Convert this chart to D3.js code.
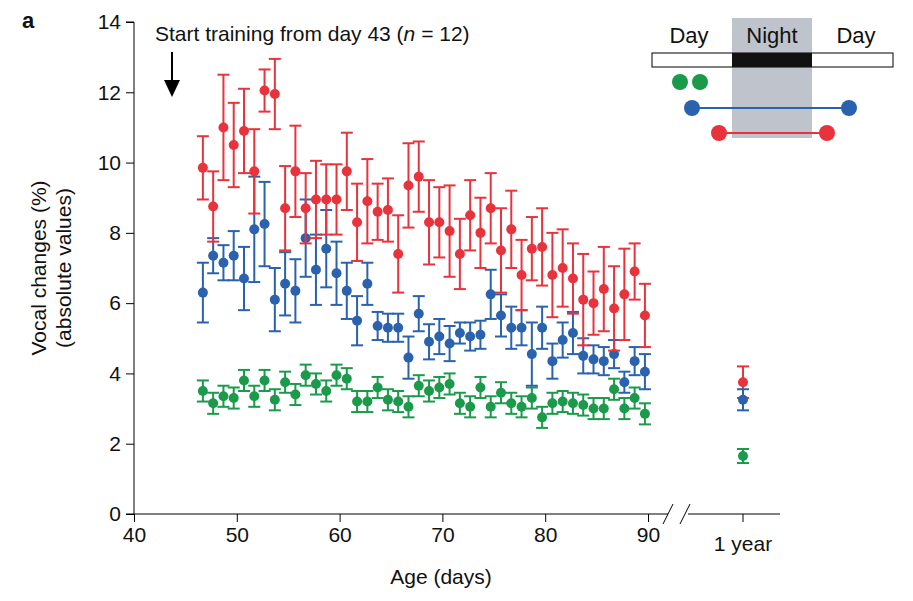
<!DOCTYPE html>
<html>
<head>
<meta charset="UTF-8">
<script src="https://d3js.org/d3.v7.min.js"></script>
<style>
  body { margin: 0; background: #fff; }
  text { font-family: "Liberation Sans", Arial, sans-serif; fill: #111; }
</style>
</head>
<body>
<svg width="913" height="601"></svg>
<script>
// data (per-day means, age from day 46.7 on)
const startDay = 46.7;
const redVals = [9.85,8.75,11.0,10.5,10.9,9.75,12.05,11.95,8.7,9.75,8.7,8.95,8.95,8.95,9.75,8.3,8.9,8.6,8.65,7.4,9.35,9.6,8.3,8.3,8.05,7.4,8.5,8.0,8.7,7.5,8.1,6.8,7.55,7.6,6.8,7.0,6.7,6.1,6.0,6.4,5.85,6.25,6.9,5.65];
const redErr  = [0.9,1.0,1.5,1.2,1.2,1.2,0.6,1.0,1.2,1.3,1.0,1.1,1.0,1.0,1.1,1.1,1.2,0.8,0.9,1.1,1.2,1.0,1.2,1.0,1.3,1.0,1.0,1.0,1.0,1.2,1.1,1.0,0.9,1.1,1.2,1.1,1.0,1.3,0.9,1.2,1.2,1.3,0.8,0.9];
const blueVals = [6.3,7.35,7.15,7.35,6.7,8.1,8.25,6.1,6.55,6.35,7.85,6.95,7.55,6.85,6.35,5.5,6.55,5.35,5.3,5.3,4.45,5.7,4.9,5.05,4.85,5.15,5.05,5.1,6.25,5.65,5.3,5.3,4.55,5.3,4.35,4.95,5.15,4.5,4.4,4.35,4.55,3.75,4.35,4.05];
const blueErr  = [0.85,0.5,0.5,0.7,0.9,1.5,1.2,0.9,0.9,0.9,1.1,1.0,1.1,0.9,0.8,0.7,0.6,0.4,0.4,0.4,0.6,0.5,0.5,0.5,0.5,0.3,0.4,0.4,0.7,0.6,0.6,0.5,0.9,0.6,0.5,0.5,0.6,0.5,0.4,0.4,0.4,0.3,0.4,0.5];
const greenVals = [3.5,3.15,3.35,3.3,3.8,3.35,3.8,3.25,3.75,3.4,3.95,3.7,3.5,3.95,3.85,3.2,3.2,3.6,3.25,3.2,3.05,3.65,3.5,3.6,3.7,3.15,3.05,3.6,3.05,3.45,3.15,3.05,3.3,2.75,3.15,3.2,3.15,3.1,3.0,3.0,3.55,3.0,3.3,2.85];
const greenErr = 0.3;
const yearVals = { red: [3.75, 0.45], blue: [3.25, 0.3], green: [1.65, 0.2] };
const xTicks = [40, 50, 60, 70, 80, 90];
const yTicks = [0, 2, 4, 6, 8, 10, 12, 14];

const colors = { red: "#e8323c", blue: "#2a62ad", green: "#1b9a4b" };
const fs = "21px";

const svg = d3.select("svg");
const x = d3.scaleLinear().domain([40, 90]).range([134, 648]);
const y = d3.scaleLinear().domain([0, 14]).range([514, 22]);
const yearX = 743;

// y axis
const yAxis = svg.append("g").attr("transform", "translate(134,0)")
  .call(d3.axisLeft(y).tickValues(yTicks).tickSize(8).tickPadding(5));
yAxis.selectAll("text").style("font-size", fs);
yAxis.select(".domain").attr("d", `M-8,${y(14)}H0V${y(0)}H-8`);

// x axis with break
const xAxis = svg.append("g").attr("transform", "translate(0,514)")
  .call(d3.axisBottom(x).tickValues(xTicks).tickSize(8).tickPadding(5));
xAxis.select(".domain").remove();
xAxis.selectAll("text").style("font-size", fs);
svg.append("line").attr("x1", 134).attr("x2", 668).attr("y1", 514).attr("y2", 514).attr("stroke", "#000");
svg.append("line").attr("x1", 688).attr("x2", 780).attr("y1", 514).attr("y2", 514).attr("stroke", "#000");
[[663, 673], [680, 690]].forEach(([a, b]) => {
  svg.append("line").attr("x1", a).attr("y1", 524).attr("x2", b).attr("y2", 504).attr("stroke", "#000");
});
svg.append("line").attr("x1", yearX).attr("x2", yearX).attr("y1", 514).attr("y2", 522).attr("stroke", "#000");
svg.append("text").attr("x", yearX).attr("y", 551).attr("text-anchor", "middle").style("font-size", fs).text("1 year");

// labels
svg.append("text").attr("x", 441).attr("y", 584).attr("text-anchor", "middle").style("font-size", fs).text("Age (days)");
svg.append("text").attr("transform", "translate(46,268) rotate(-90)").attr("text-anchor", "middle").style("font-size", fs).text("Vocal changes (%)");
svg.append("text").attr("transform", "translate(71,268) rotate(-90)").attr("text-anchor", "middle").style("font-size", fs).text("(absolute values)");
svg.append("text").attr("x", 22).attr("y", 28).style("font-size", "22px").style("font-weight", "bold").text("a");
const title = svg.append("text").attr("x", 155).attr("y", 41).style("font-size", fs);
title.append("tspan").text("Start training from day 43 (");
title.append("tspan").style("font-style", "italic").text("n");
title.append("tspan").text(" = 12)");
svg.append("line").attr("x1", 172).attr("x2", 172).attr("y1", 52).attr("y2", 84).attr("stroke", "#000").attr("stroke-width", 2);
svg.append("path").attr("d", "M164,80L180,80L172,97Z").attr("fill", "#000");

// series
function drawSeries(vals, errs, color) {
  const data = vals.map((v, i) => ({ d: startDay + i, v, e: Array.isArray(errs) ? errs[i] : errs }));
  const g = svg.append("g").attr("stroke", color).attr("fill", color).attr("stroke-width", 2);
  data.forEach(p => {
    const cx = x(p.d);
    g.append("line").attr("x1", cx).attr("x2", cx).attr("y1", y(p.v - p.e)).attr("y2", y(p.v + p.e));
    [p.v - p.e, p.v + p.e].forEach(t => g.append("line").attr("x1", cx - 6).attr("x2", cx + 6).attr("y1", y(t)).attr("y2", y(t)));
    g.append("circle").attr("cx", cx).attr("cy", y(p.v)).attr("r", 5).attr("stroke", "none");
  });
}
drawSeries(greenVals, greenErr, colors.green);
drawSeries(blueVals, blueErr, colors.blue);
drawSeries(redVals, redErr, colors.red);

// 1 year points
Object.entries(yearVals).forEach(([k, [v, e]]) => {
  const g = svg.append("g").attr("stroke", colors[k]).attr("fill", colors[k]).attr("stroke-width", 2);
  g.append("line").attr("x1", yearX).attr("x2", yearX).attr("y1", y(v - e)).attr("y2", y(v + e));
  [v - e, v + e].forEach(t => g.append("line").attr("x1", yearX - 6).attr("x2", yearX + 6).attr("y1", y(t)).attr("y2", y(t)));
  g.append("circle").attr("cx", yearX).attr("cy", y(v)).attr("r", 5).attr("stroke", "none");
});

// inset
const ins = svg.append("g");
ins.append("rect").attr("x", 732).attr("y", 18).attr("width", 80).attr("height", 120).attr("fill", "#bfc3cb");
ins.append("rect").attr("x", 652).attr("y", 53).attr("width", 241).attr("height", 14).attr("fill", "#fff").attr("stroke", "#000");
ins.append("rect").attr("x", 732).attr("y", 53).attr("width", 80).attr("height", 14).attr("fill", "#111");
[["Day", 689], ["Night", 772], ["Day", 856]].forEach(([t, px]) =>
  ins.append("text").attr("x", px).attr("y", 43).attr("text-anchor", "middle").style("font-size", "22px").text(t));
[680, 700].forEach(cx => ins.append("circle").attr("cx", cx).attr("cy", 82).attr("r", 8).attr("fill", colors.green));
ins.append("line").attr("x1", 692).attr("x2", 849).attr("y1", 108).attr("y2", 108).attr("stroke", colors.blue).attr("stroke-width", 2);
[692, 849].forEach(cx => ins.append("circle").attr("cx", cx).attr("cy", 108).attr("r", 8).attr("fill", colors.blue));
ins.append("line").attr("x1", 719).attr("x2", 827).attr("y1", 133).attr("y2", 133).attr("stroke", colors.red).attr("stroke-width", 2);
[719, 827].forEach(cx => ins.append("circle").attr("cx", cx).attr("cy", 133).attr("r", 8).attr("fill", colors.red));
</script>
</body>
</html>
